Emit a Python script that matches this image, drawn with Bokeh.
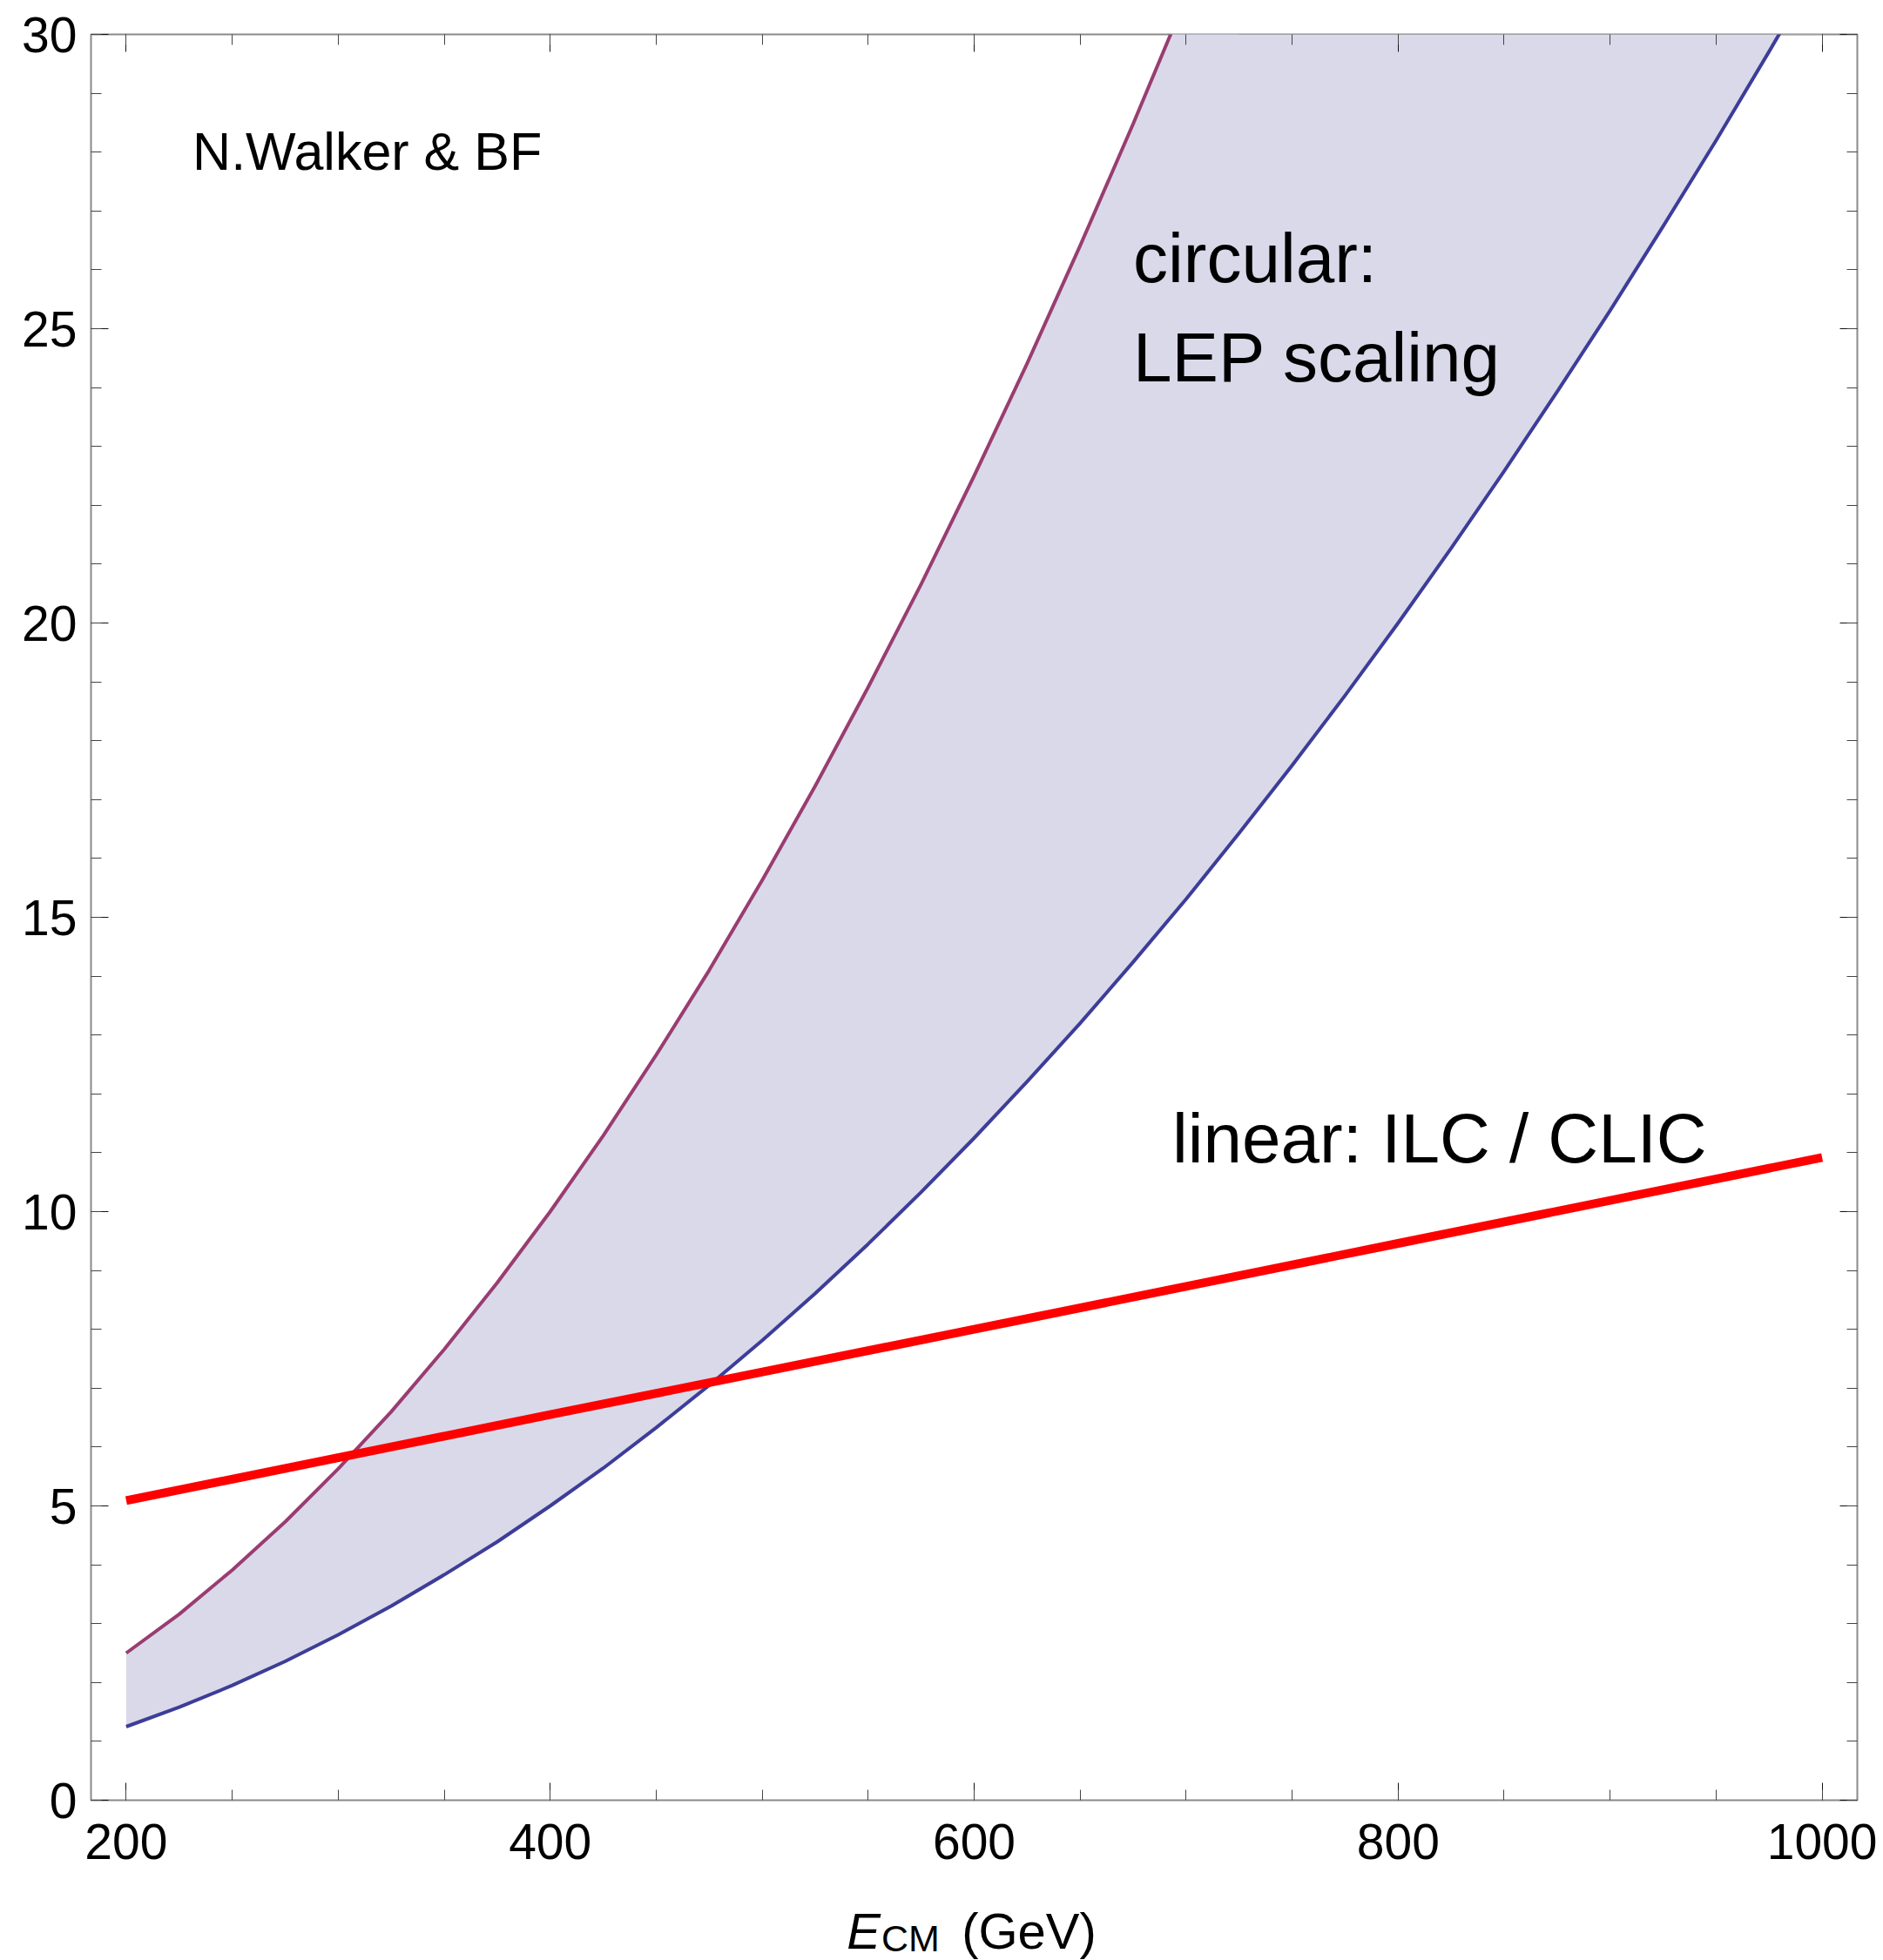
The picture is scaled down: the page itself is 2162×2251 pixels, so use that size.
from bokeh.plotting import figure
from bokeh.layouts import column
from bokeh.models import Range1d, LinearAxis, FixedTicker, Label
from bokeh.embed import file_html
from bokeh.resources import INLINE

# ---- data ----
E_lower = [200, 225, 250, 275, 300, 325, 350, 375, 400, 425, 450, 475, 500,
           525, 550, 575, 600, 625, 650, 675, 700, 725, 750, 775, 800, 825,
           850, 875, 900, 925, 950, 975, 1000]
lower = [1.25, 1.58, 1.95, 2.36, 2.81, 3.30, 3.83, 4.39, 5.00, 5.64, 6.33, 7.05, 7.81,
         8.61, 9.45, 10.33, 11.25, 12.21, 13.20, 14.24, 15.31, 16.43, 17.58, 18.77, 20.00, 21.27,
         22.58, 23.93, 25.31, 26.74, 28.20, 29.71, 31.25]

E_upper = [200, 225, 250, 275, 300, 325, 350, 375, 400, 425, 450, 475, 500,
           525, 550, 575, 600, 625, 650, 675, 700]
upper = [2.50, 3.16, 3.91, 4.73, 5.63, 6.60, 7.66, 8.79, 10.00, 11.29, 12.66, 14.10, 15.63,
         17.23, 18.91, 20.66, 22.50, 24.41, 26.41, 28.48, 30.63]

E_linear = [200, 400, 600, 800, 1000]
linear = [5.09, 6.55, 8.00, 9.46, 10.92]

x_major = [200, 400, 600, 800, 1000]
x_minor = list(range(150, 1051, 50))
y_major = [0, 5, 10, 15, 20, 25, 30]
y_minor = list(range(0, 31, 1))

X_MIN, X_MAX = 183.4, 1016.6
Y_MIN, Y_MAX = 0, 30

FONT = "Liberation Sans"

# fill top: upper curve where it exists (clipped by the frame), plot ceiling beyond
fill_top = [upper[i] if i < len(upper) else Y_MAX for i in range(len(E_lower))]

H_MAIN = 2170
H_TITLE = 81

x_range = Range1d(X_MIN, X_MAX)

p = figure(width=2162, height=H_MAIN,
           x_range=x_range, y_range=Range1d(Y_MIN, Y_MAX),
           output_backend="svg", toolbar_location=None,
           min_border_left=104, min_border_right=30,
           min_border_top=39, min_border_bottom=103)

p.grid.visible = False
p.background_fill_color = "white"
p.border_fill_color = "white"
p.outline_line_color = "#8a8a8a"
p.outline_line_width = 2

# band
p.varea(x=E_lower, y1=lower, y2=fill_top, fill_color="#d9d9ea", fill_alpha=1.0)
p.line(E_lower, lower, line_color="#3d3d99", line_width=4, line_join="round")
p.line(E_upper, upper, line_color="#993d71", line_width=4, line_join="round")
p.line(E_linear, linear, line_color="#ff0000", line_width=10)


def style_axis(ax, major, minor, labels=True, standoff=16):
    ax.ticker = FixedTicker(ticks=major, minor_ticks=minor)
    ax.axis_line_color = None
    ax.major_tick_in = 20
    ax.major_tick_out = 0
    ax.minor_tick_in = 12
    ax.minor_tick_out = 0
    ax.major_tick_line_color = "#111111"
    ax.major_tick_line_width = 1
    ax.minor_tick_line_color = "#444444"
    ax.minor_tick_line_width = 1
    if labels:
        ax.major_label_text_font = FONT
        ax.major_label_text_font_size = "57px"
        ax.major_label_text_color = "black"
        ax.major_label_standoff = standoff
    else:
        ax.major_label_text_font_size = "0px"
        ax.major_label_standoff = 0
        ax.major_label_text_alpha = 0


style_axis(p.xaxis[0], x_major, x_minor, standoff=27)
style_axis(p.yaxis[0], y_major, y_minor, standoff=16)
p.yaxis[0].major_label_orientation = "horizontal"

top_ax = LinearAxis()
right_ax = LinearAxis()
style_axis(top_ax, x_major, x_minor, labels=False)
style_axis(right_ax, y_major, y_minor, labels=False)
p.add_layout(top_ax, "above")
p.add_layout(right_ax, "right")

# annotations inside plot
p.add_layout(Label(x=231.3, y=28.01, text="N.Walker & BF", text_font=FONT,
                   text_font_size="61px", text_color="black", text_baseline="alphabetic"))
p.add_layout(Label(x=675.0, y=26.20, text="circular:", text_font=FONT,
                   text_font_size="80px", text_color="black", text_baseline="alphabetic"))
p.add_layout(Label(x=675.0, y=24.51, text="LEP scaling", text_font=FONT,
                   text_font_size="80px", text_color="black", text_baseline="alphabetic"))
p.add_layout(Label(x=693.5, y=11.25, text="linear: ILC / CLIC", text_font=FONT,
                   text_font_size="80px", text_color="black", text_baseline="alphabetic"))

# ---- strip below for the x-axis title: E_CM (GeV) ----
t = figure(width=2162, height=H_TITLE, x_range=x_range, y_range=Range1d(0, H_TITLE),
           output_backend="svg", toolbar_location=None,
           x_axis_location=None, y_axis_location=None,
           min_border_left=104, min_border_right=30,
           min_border_top=0, min_border_bottom=0)
t.grid.visible = False
t.outline_line_color = None
t.background_fill_color = "white"
t.border_fill_color = "white"

t.add_layout(Label(x=539.9, y=34, text="E", text_font=FONT, text_font_style="italic",
                   text_font_size="58px", text_color="black", text_baseline="alphabetic"))
t.add_layout(Label(x=556.2, y=26, text="CM", text_font=FONT,
                   text_font_size="43px", text_color="black", text_baseline="alphabetic"))
t.add_layout(Label(x=594.1, y=34, text="(GeV)", text_font=FONT,
                   text_font_size="58px", text_color="black", text_baseline="alphabetic"))

layout = column(p, t, spacing=0)
open("out.html", "w").write(file_html(layout, INLINE))
